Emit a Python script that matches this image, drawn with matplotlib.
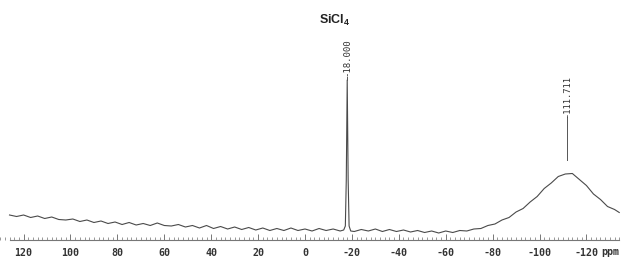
import numpy as np
import matplotlib
matplotlib.use("Agg")
import matplotlib.pyplot as plt
from matplotlib.ticker import MultipleLocator

# chemical shift (ppm) and intensity (arbitrary units)
ppm = [126, 123, 120, 117, 114, 111, 108, 105, 102, 99, 96, 93, 90, 87, 84,
       81, 78, 75, 72, 69, 66, 63, 60, 57, 54, 51, 48, 45, 42, 39, 36, 33,
       30, 27, 24, 21, 18, 15, 12, 9, 6, 3, 0, -3, -6, -9, -12, -15,
       -16.5, -17.2, -17.6, -18.0, -18.4, -18.8, -19.5,
       -21, -24, -27, -30, -33, -36, -39, -42, -45, -48, -51, -54, -57, -60,
       -63, -66, -69, -72, -75, -78, -81, -84, -87, -90, -93, -96, -99,
       -102, -105, -108, -111, -114, -117, -120, -123, -126, -129, -132, -134]
intensity = [25, 23.5, 25, 22.5, 24, 21.5, 23, 20.5, 20, 21, 18.5, 20, 17.5, 19, 16.5,
             18, 15.5, 17.5, 15, 16.5, 14.5, 17, 14.5, 14, 15.5, 13, 14.5, 12, 14.5, 11.5, 13.5, 11,
             13, 10.5, 12.5, 10, 12, 9.5, 11.5, 9.5, 12, 9.5, 11, 9, 11.5, 9.5, 11, 9,
             10, 14, 60, 160, 60, 14, 9,
             8.5, 10.5, 9, 11, 8.5, 10.5, 8.5, 10, 8, 9.5, 7.5, 9, 7, 9,
             7.5, 9.5, 9, 11, 11.5, 14.5, 16, 20, 22.5, 28, 31.5, 38, 43.5,
             51.5, 57, 63.5, 66, 66.5, 60.5, 54.5, 46, 40.5, 33.5, 30.5, 27.5]

peak_pos = [-18.0, -111.711]
peak_text = ["-18.000", "-111.711"]
tick_vals = [120, 100, 80, 60, 40, 20, 0, -20, -40, -60, -80, -100, -120]

plt.rcParams['mathtext.fontset'] = 'custom'
plt.rcParams['mathtext.rm'] = 'Liberation Sans:bold'

fig = plt.figure(figsize=(6.23, 2.58), dpi=100)
ax = fig.add_axes([0, 18 / 258, 1, 240 / 258])
ax.plot(ppm, intensity, color='#4a4a4a', lw=0.8)
ax.set_xlim(130.06, -135.6)
ax.set_ylim(0, 240)

for s in ['top', 'left', 'right']:
    ax.spines[s].set_visible(False)
ax.spines['bottom'].set_bounds(126, -134)
ax.spines['bottom'].set_color('#777777')
ax.spines['bottom'].set_linewidth(0.8)
ax.set_yticks([])
ax.set_xticks(tick_vals)
ax.set_xticklabels([str(v) for v in tick_vals])
ax.xaxis.set_minor_locator(MultipleLocator(2))
ax.tick_params(axis='x', which='major', direction='in', length=4, width=0.7,
               color='#777777', pad=5.5, labelsize=7.2, labelcolor='#333333')
ax.tick_params(axis='x', which='minor', direction='in', length=2.5, width=0.6,
               color='#888888')
for lab in ax.get_xticklabels():
    lab.set_family('DejaVu Sans Mono')
    lab.set_fontweight('bold')

# peak annotations
ax.text(peak_pos[0], 183, peak_text[0], rotation=90, ha='center', va='center',
        fontsize=6.5, family='DejaVu Sans Mono', color='#333333')
ax.plot([peak_pos[0], peak_pos[0]], [160, 163], color='#555555', lw=0.7)
ax.text(peak_pos[1], 144, peak_text[1], rotation=90, ha='center', va='center',
        fontsize=6.3, family='DejaVu Sans Mono', color='#333333')
ax.plot([peak_pos[1], peak_pos[1]], [80, 123], color='#555555', lw=0.7)

ax.text(-12.8, 220, r'SiCl$_\mathrm{4}$', ha='center', va='center',
        fontsize=9, family='Liberation Sans', fontweight='bold', color='#222222')

fig.text(610 / 623, 1 - 252 / 258, 'ppm', ha='center', va='center',
         fontsize=7.2, family='DejaVu Sans Mono', fontweight='bold', color='#333333')

fig.savefig('out.png', dpi=100)
